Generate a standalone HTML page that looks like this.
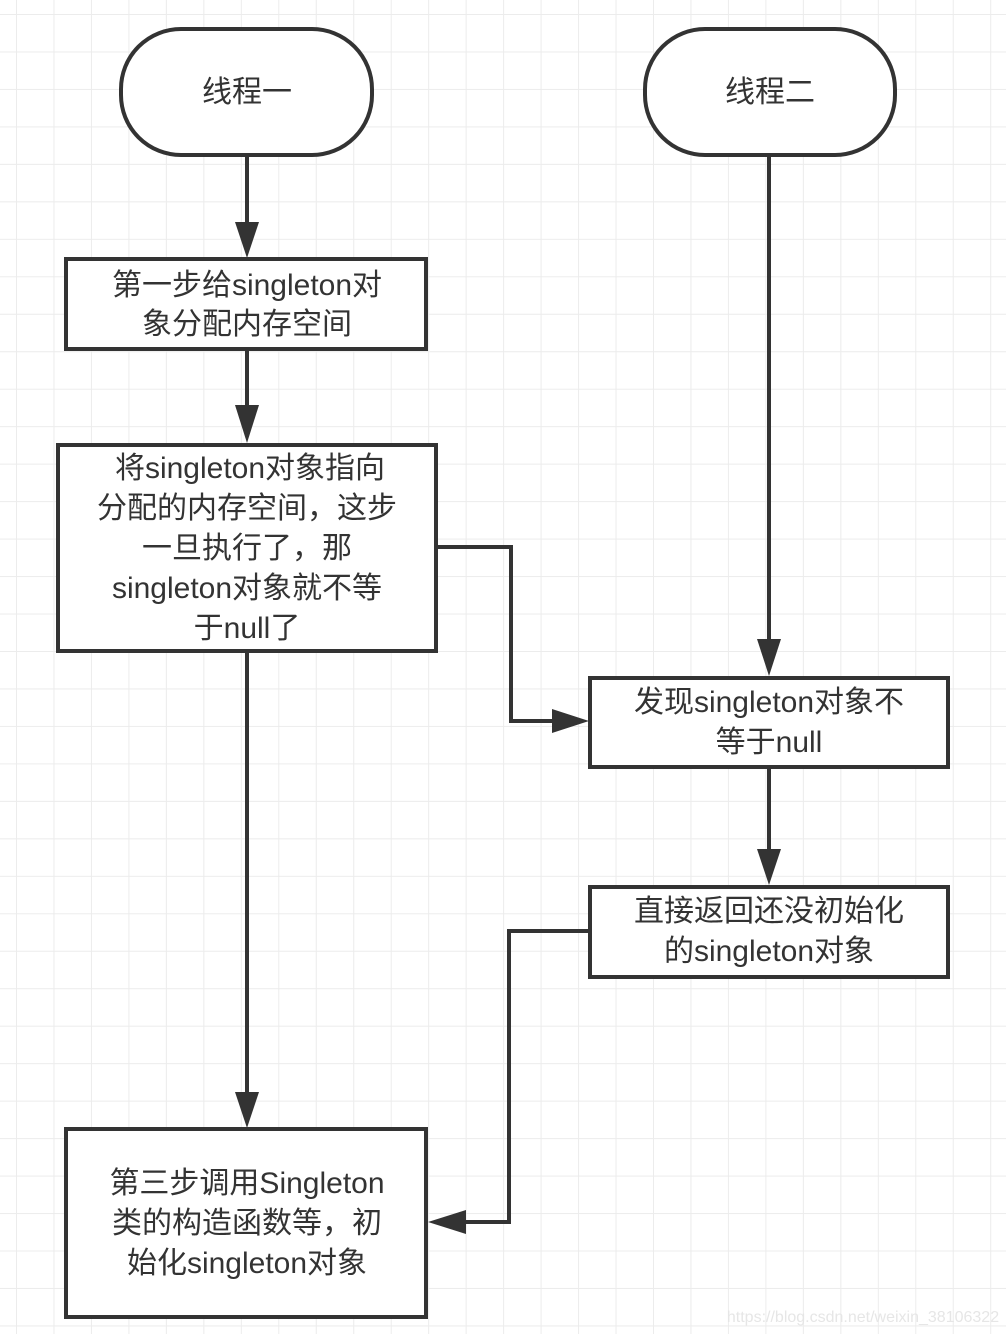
<!DOCTYPE html>
<html><head><meta charset="utf-8"><style>
html,body{margin:0;padding:0;background:#fff}
body{width:1006px;height:1334px;position:relative;overflow:hidden}
svg{position:absolute;left:0;top:0}
text{font-family:"Liberation Sans","Noto Sans CJK SC",sans-serif;font-size:30px;fill:#333;text-anchor:middle}
</style></head><body>
<svg width="1006" height="1334" viewBox="0 0 1006 1334">
<defs>
<pattern id="g" x="16" y="14" width="37.47" height="37.47" patternUnits="userSpaceOnUse">
<path d="M0 0V37.47M0 0H37.47" stroke="#ececec" stroke-width="2" fill="none"/>
</pattern>
<marker id="a" markerWidth="10" markerHeight="10" refX="9" refY="5" orient="auto" markerUnits="userSpaceOnUse" viewBox="0 0 10 10">
</marker>
</defs>
<rect width="1006" height="1334" fill="url(#g)"/>
<g stroke="#333" stroke-width="4" fill="#fff">
<rect x="121" y="29" width="251" height="126" rx="60"/>
<rect x="645" y="29" width="250" height="126" rx="60"/>
<rect x="66" y="259" width="360" height="90"/>
<rect x="58" y="445" width="378" height="206"/>
<rect x="590" y="678" width="358" height="89"/>
<rect x="590" y="887" width="358" height="90"/>
<rect x="66" y="1129" width="360" height="188"/>
</g>
<g stroke="#333" stroke-width="4" fill="none">
<path d="M247 155V226"/>
<path d="M247 349V412"/>
<path d="M247 651V1098"/>
<path d="M769 155V645"/>
<path d="M769 767V855"/>
<path d="M436 547H511V721H556"/>
<path d="M590 931H509V1222H462"/>
</g>
<g fill="#333">
<path d="M235 222L247 258L259 222Z"/>
<path d="M235 405L247 443L259 405Z"/>
<path d="M235 1092L247 1128L259 1092Z"/>
<path d="M757 639L769 676L781 639Z"/>
<path d="M757 849L769 885L781 849Z"/>
<path d="M552 709L589 721L552 733Z"/>
<path d="M466 1210L428 1222L466 1234Z"/>
</g>
<text x="247" y="102">线程一</text>
<text x="770" y="102">线程二</text>
<text x="247" y="295">第一步给singleton对</text>
<text x="247" y="334">象分配内存空间</text>
<text x="250" y="478">将singleton对象指向</text>
<text x="247" y="518">分配的内存空间，这步</text>
<text x="247" y="558">一旦执行了，那</text>
<text x="247" y="598">singleton对象就不等</text>
<text x="247" y="638">于null了</text>
<text x="769" y="712">发现singleton对象不</text>
<text x="769" y="752">等于null</text>
<text x="769" y="921">直接返回还没初始化</text>
<text x="769" y="961">的singleton对象</text>
<text x="247" y="1193">第三步调用Singleton</text>
<text x="247" y="1233">类的构造函数等，初</text>
<text x="247" y="1273">始化singleton对象</text>
<text x="863" y="1322" style="font-size:16px;fill:#e6e6e6">https://blog.csdn.net/weixin_38106322</text>
</svg>
</body></html>
